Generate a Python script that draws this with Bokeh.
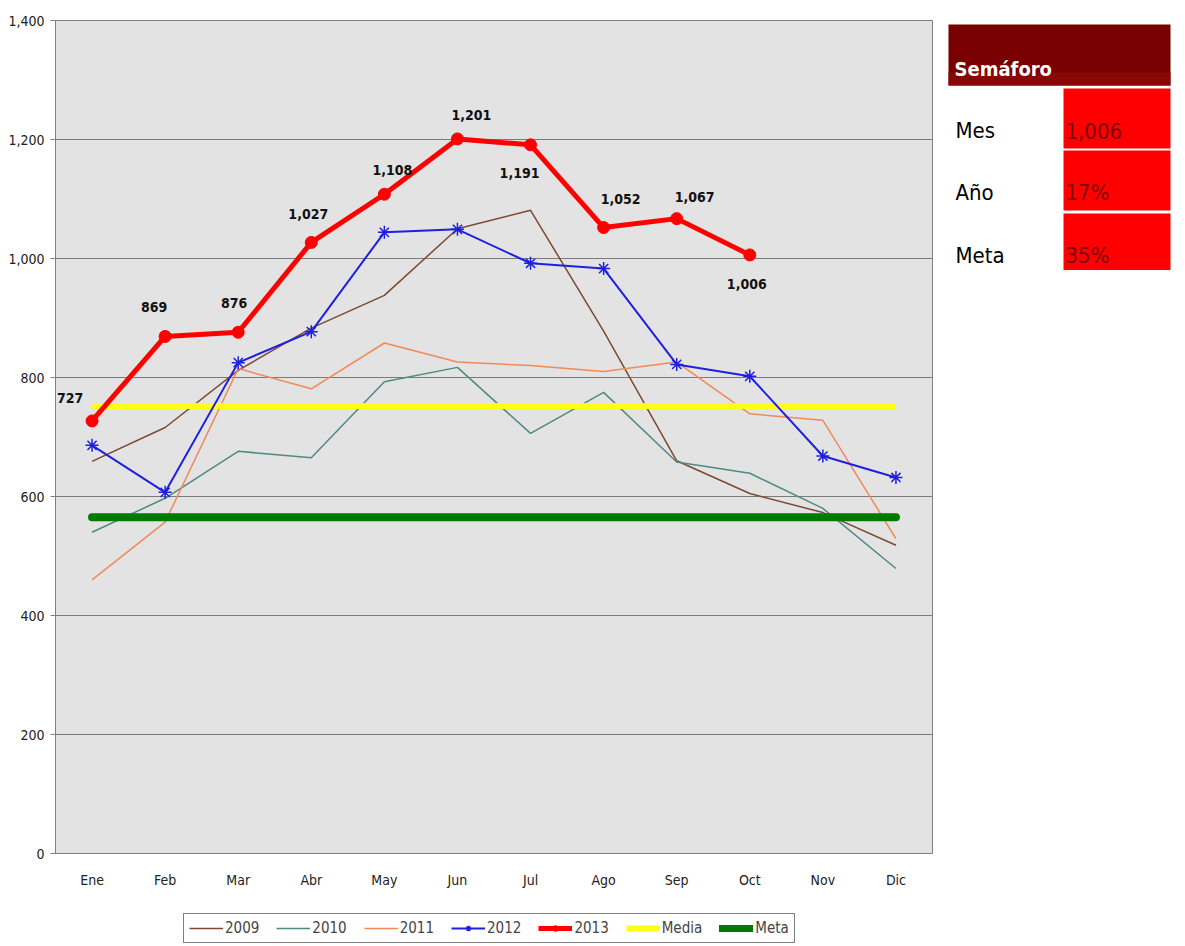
from bokeh.plotting import figure
from bokeh.models import (Range1d, FactorRange, FixedTicker, NumeralTickFormatter,
                          Legend, LegendItem, ColumnDataSource)
from bokeh.layouts import row, column
from bokeh.embed import file_html
from bokeh.resources import INLINE
from bokeh.core.properties import value

# ---------------- data ----------------
months = ["Ene", "Feb", "Mar", "Abr", "May", "Jun", "Jul", "Ago", "Sep", "Oct", "Nov", "Dic"]
s2009 = [659, 716, 812, 883, 938, 1050, 1081, 878, 660, 605, 573, 518]
s2010 = [540, 597, 676, 665, 793, 817, 706, 775, 658, 639, 580, 479]
s2011 = [460, 557, 815, 781, 858, 826, 820, 810, 826, 739, 728, 529]
s2012 = [686, 607, 825, 877, 1044, 1049, 992, 983, 822, 802, 668, 632]
s2013 = [727, 869, 876, 1027, 1108, 1201, 1191, 1052, 1067, 1006]
media = [752] * 12
meta = [565] * 12
y_ticks = [0, 200, 400, 600, 800, 1000, 1200, 1400]
series_names = ["2009", "2010", "2011", "2012", "2013", "Media", "Meta"]

sem_labels = ["Mes", "Año", "Meta"]
sem_values = ["1,006", "17%", "35%"]
sem_title = "Semáforo"

# ---------------- style ----------------
FONT = "DejaVu Sans Condensed"
lbl_dx = [-22, -11, -4, -3, 8, 14, -11, 17, 18, -3]
lbl_dy = [-23, -29, -29, -28, -24, -24, 28, -29, -22, 29]
C09, C10, C11, C12, C13, CMED, CMET = "#7b4a32", "#4f8a82", "#f08a58", "#1f1fe0", "#ff0000", "#ffff1a", "#007a00"

p = figure(x_range=FactorRange(*months), y_range=Range1d(0, 1400),
           output_backend="svg", toolbar_location=None,
           min_border_left=55, min_border_right=8, min_border_top=20, min_border_bottom=40)
p.frame_width = 877
p.frame_height = 833
p.width = 55 + 877 + 8
p.height = 20 + 833 + 40
p.background_fill_color = "#e3e3e3"
p.border_fill_color = "white"
p.outline_line_color = "#808080"
p.outline_line_width = 1

p.xgrid.grid_line_color = None
p.ygrid.grid_line_color = "#7a7a7a"
p.ygrid.grid_line_width = 1
p.yaxis.ticker = FixedTicker(ticks=y_ticks)
p.yaxis.formatter = NumeralTickFormatter(format="0,0")
p.yaxis.minor_tick_line_color = None
for ax in (p.xaxis, p.yaxis):
    ax.axis_line_color = "#808080"
    ax.major_tick_line_color = "#808080"
    ax.major_label_text_font = FONT
    ax.major_label_text_font_size = "14px"
    ax.major_label_text_color = "#222222"
p.yaxis.major_tick_out = 5
p.yaxis.major_tick_in = 0
p.yaxis.major_label_standoff = 6
p.xaxis.major_tick_line_color = None
p.xaxis.major_label_standoff = 12

p.line(months, s2009, line_color=C09, line_width=1.5)
p.line(months, s2010, line_color=C10, line_width=1.5)
p.line(months, s2011, line_color=C11, line_width=1.5)
p.line(months, media, line_color=CMED, line_width=6)
p.line(months, meta, line_color=CMET, line_width=8, line_cap="round")
p.line(months, s2012, line_color=C12, line_width=2)
p.scatter(months, s2012, marker="asterisk", size=13, line_color=C12, line_width=1.5)
m13 = months[:len(s2013)]
p.line(m13, s2013, line_color=C13, line_width=5)
p.scatter(m13, s2013, marker="circle", size=12, fill_color=C13, line_color=C13)

src = ColumnDataSource(dict(x=m13, y=s2013, t=[f"{v:,}" for v in s2013], dx=lbl_dx, dy=lbl_dy))
p.text(x="x", y="y", text="t", source=src, x_offset="dx", y_offset="dy",
       text_font=value(FONT), text_font_style="bold", text_font_size="14px",
       text_color="#111111", text_align="center", text_baseline="middle")

# ---------------- legend strip (proxy glyphs kept outside the visible range) ----------------
LH = 946 - p.height
lf = figure(width=940, height=LH, x_range=Range1d(0, 1), y_range=Range1d(0, 1),
            output_backend="svg", toolbar_location=None, min_border=0)
lf.frame_width = 940
lf.frame_height = LH
lf.axis.visible = False
lf.grid.visible = False
lf.outline_line_color = None
lf.background_fill_color = "white"
lf.border_fill_color = "white"
px, py = [-5, -4], [-5, -5]
g09 = lf.line(px, py, line_color=C09, line_width=1.5)
g10 = lf.line(px, py, line_color=C10, line_width=1.5)
g11 = lf.line(px, py, line_color=C11, line_width=1.5)
g12 = lf.line(px, py, line_color=C12, line_width=2)
g12m = lf.scatter(px, py, marker="asterisk", size=11, line_color=C12, line_width=1.5)
g13 = lf.line(px, py, line_color=C13, line_width=5)
g13m = lf.scatter(px, py, marker="circle", size=11, fill_color=C13, line_color=C13)
gmed = lf.line(px, py, line_color=CMED, line_width=6)
gmet = lf.line(px, py, line_color=CMET, line_width=7, line_cap="round")
groups = [[g09], [g10], [g11], [g12, g12m], [g13, g13m], [gmed], [gmet]]
legend = Legend(items=[LegendItem(label=n, renderers=g) for n, g in zip(series_names, groups)],
                orientation="horizontal", location=(183, 3))
legend.border_line_color = "black"
legend.border_line_width = 1.5
legend.background_fill_color = "white"
legend.label_text_font = FONT
legend.label_text_font_size = "15px"
legend.glyph_width = 34
legend.glyph_height = 14
legend.label_standoff = 2
legend.spacing = 17
legend.padding = 5
legend.margin = 0
lf.add_layout(legend)

# ---------------- semaforo table ----------------
W_T = 1185 - 940
TH = 270
t = figure(width=W_T, height=TH, x_range=Range1d(0, W_T), y_range=Range1d(TH, 0),
           output_backend="svg", toolbar_location=None, min_border=0)
t.frame_width = W_T
t.frame_height = TH
t.axis.visible = False
t.grid.visible = False
t.outline_line_color = None
t.background_fill_color = "white"
t.border_fill_color = "white"

x0, x1, xm = 8, 230, 123
t.quad(left=[x0], right=[x1], top=[4], bottom=[65], fill_color="#780000", line_color=None)
t.quad(left=[x0], right=[x1], top=[52], bottom=[65], fill_color="#880808", line_color=None)
t.text(x=[14], y=[48], text=[sem_title], text_font=value(FONT), text_font_style="bold",
       text_font_size="20px", text_color="white", text_baseline="middle")
row_tops = [68, 130, 193]
row_h = 60
t.quad(left=[xm] * 3, right=[x1] * 3, top=row_tops, bottom=[r + row_h for r in row_tops],
       fill_color="#ff0000", line_color=None)
t.text(x=[15] * 3, y=[r + 42 for r in row_tops], text=sem_labels, text_font=value(FONT),
       text_font_size="22px", text_color="black", text_baseline="middle")
t.text(x=[xm + 2] * 3, y=[r + 42 for r in row_tops], text=sem_values, text_font=value(FONT),
       text_font_size="22px", text_color="#7a0000", text_baseline="middle")
t.segment(x0=[x0], y0=[253], x1=[x1 + 2], y1=[253], line_color="#3a0000", line_width=2)

layout = column(row(p, t), lf)
open("out.html", "w").write(file_html(layout, INLINE))
